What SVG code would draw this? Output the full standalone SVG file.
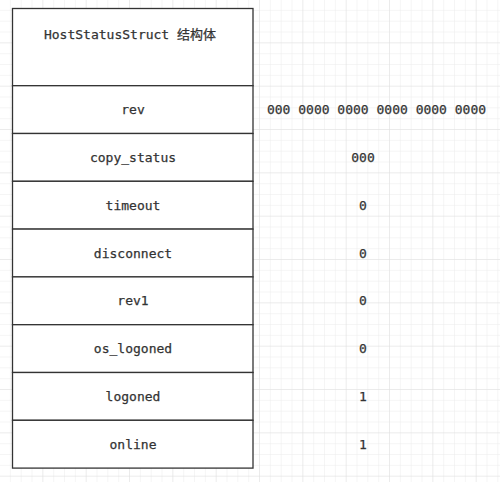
<svg xmlns="http://www.w3.org/2000/svg" width="500" height="482" viewBox="0 0 500 482">
<defs>
<pattern id="minor" x="0" y="0" width="10.833" height="10.833" patternUnits="userSpaceOnUse">
<path d="M10.833 0V10.833M0 10.833H10.833" fill="none" stroke="#ebebeb" stroke-width="1"/>
</pattern>
<pattern id="major" x="0" y="0" width="43.333" height="43.333" patternUnits="userSpaceOnUse">
<rect width="43.333" height="43.333" fill="url(#minor)"/>
<path d="M43.333 0V43.333M0 43.333H43.333" fill="none" stroke="#e0e0e0" stroke-width="1"/>
</pattern>
<style>
.cell{fill:#ffffff;stroke:#333333;stroke-width:1.3}
.t{font-family:"DejaVu Sans Mono","Liberation Mono","Noto Sans CJK SC",monospace;font-size:13px;fill:#333333;stroke:#333333;stroke-width:0.25;text-anchor:middle}
</style>
</defs>
<rect width="500" height="482" fill="#ffffff"/>
<rect width="500" height="482" fill="url(#major)"/>
<g id="header"><rect class="cell" x="12.5" y="8.5" width="240.5" height="77.2"/><text class="t" x="130" y="39">HostStatusStruct 结构体</text></g>
<g id="rev"><rect class="cell" x="12.5" y="85.7" width="240.5" height="47.8"/><text class="t" x="133" y="114">rev</text></g>
<g id="copy_status"><rect class="cell" x="12.5" y="133.5" width="240.5" height="47.8"/><text class="t" x="133" y="162">copy_status</text></g>
<g id="timeout"><rect class="cell" x="12.5" y="181.3" width="240.5" height="47.8"/><text class="t" x="133" y="209.7">timeout</text></g>
<g id="disconnect"><rect class="cell" x="12.5" y="229.1" width="240.5" height="47.8"/><text class="t" x="133" y="257.5">disconnect</text></g>
<g id="rev1"><rect class="cell" x="12.5" y="276.9" width="240.5" height="47.8"/><text class="t" x="133" y="305.3">rev1</text></g>
<g id="os_logoned"><rect class="cell" x="12.5" y="324.7" width="240.5" height="47.8"/><text class="t" x="133" y="353.1">os_logoned</text></g>
<g id="logoned"><rect class="cell" x="12.5" y="372.5" width="240.5" height="47.8"/><text class="t" x="133" y="400.9">logoned</text></g>
<g id="online"><rect class="cell" x="12.5" y="420.3" width="240.5" height="47.8"/><text class="t" x="133" y="448.7">online</text></g>
<g id="values">
<text class="t" x="376.5" y="114">000 0000 0000 0000 0000 0000</text>
<text class="t" x="363" y="162">000</text>
<text class="t" x="363" y="209.7">0</text>
<text class="t" x="363" y="257.5">0</text>
<text class="t" x="363" y="305.3">0</text>
<text class="t" x="363" y="353.1">0</text>
<text class="t" x="363" y="400.9">1</text>
<text class="t" x="363" y="448.7">1</text>
</g>
<g id="connectors"></g>
</svg>
